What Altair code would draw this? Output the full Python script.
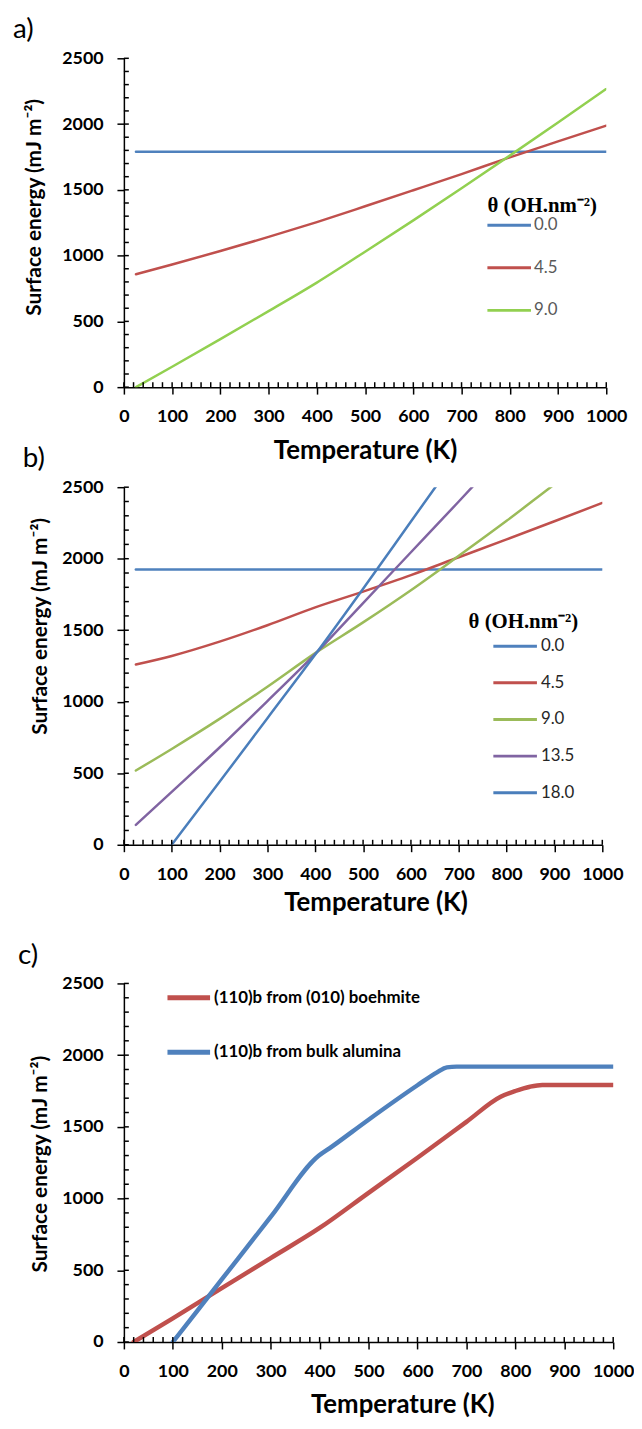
import altair as alt
import pandas as pd

# ---------------- data ----------------
# panel a
T_A = [25, 100, 200, 300, 400, 500, 600, 700, 800, 900, 1000]
A_00 = [1790, 1790, 1790, 1790, 1790, 1790, 1790, 1790, 1790, 1790, 1790]
A_45 = [858, 932, 1035, 1142, 1255, 1375, 1497, 1620, 1747, 1868, 1988]
A_90 = [0, 155, 365, 578, 795, 1030, 1268, 1512, 1760, 2012, 2267]
A_SERIES = ["0.0", "4.5", "9.0"]
A_COLORS = ["#4F81BD", "#C0504D", "#92D050"]

# panel b
T_B = [25, 100, 200, 300, 400, 500, 600, 700, 800, 900, 1000]
B_00 = [1925, 1925, 1925, 1925, 1925, 1925, 1925, 1925, 1925, 1925, 1925]
B_45 = [1260, 1320, 1420, 1535, 1660, 1770, 1885, 2010, 2135, 2262, 2390]
B_90 = [519, 670, 880, 1105, 1340, 1555, 1780, 2020, 2265, 2520, 2770]
T_B135 = [25, 100, 200, 300, 400, 500, 600, 700, 800]
B_135 = [139, 370, 680, 1005, 1335, 1690, 2045, 2400, 2760]
T_B180 = [100, 200, 300, 400, 500, 600, 700]
B_180 = [0, 440, 885, 1330, 1790, 2260, 2730]
B_SERIES = ["0.0", "4.5", "9.0", "13.5", "18.0"]
B_COLORS = ["#4F81BD", "#C0504D", "#9BBB59", "#8064A2", "#4A7EBB"]

# panel c
T_C_RED = [20, 100, 200, 300, 400, 500, 600, 700, 770, 800, 830, 855, 1000]
C_RED = [0, 165, 375, 585, 795, 1040, 1285, 1535, 1710, 1750, 1780, 1792, 1792]
T_C_BLUE = [100, 200, 300, 398, 420, 500, 600, 640, 660, 680, 1000]
C_BLUE = [0, 436, 872, 1298, 1350, 1550, 1790, 1880, 1915, 1920, 1920]
C_SERIES = ["(110)b from (010) boehmite", "(110)b from bulk alumina"]
C_COLORS = ["#C0504D", "#4F81BD"]

X_MAJOR = list(range(0, 1001, 100))
X_MINOR = list(range(0, 1001, 20))
Y_MAJOR = list(range(0, 2501, 500))
Y_MINOR = list(range(0, 2501, 100))

FONT = "Lato"
SERIF = "Liberation Serif"


def rows(T, E, s):
    return [{"T": t, "E": e, "s": s} for t, e in zip(T, E)]


df_a = pd.DataFrame(rows(T_A, A_00, "0.0") + rows(T_A, A_45, "4.5") + rows(T_A, A_90, "9.0"))
df_b = pd.DataFrame(rows(T_B, B_00, "0.0") + rows(T_B, B_45, "4.5") + rows(T_B, B_90, "9.0")
                    + rows(T_B135, B_135, "13.5") + rows(T_B180, B_180, "18.0"))
df_c = pd.DataFrame(rows(T_C_RED, C_RED, C_SERIES[0]) + rows(T_C_BLUE, C_BLUE, C_SERIES[1]))
df_xminor = pd.DataFrame({"v": X_MINOR})
df_yminor = pd.DataFrame({"v": Y_MINOR})

XS = alt.Scale(domain=[0, 1000], nice=False, zero=False)
YS = alt.Scale(domain=[0, 2500], nice=False)


def main_x_axis(title_pad, title_x=None):
    kw = dict(orient="bottom", values=X_MAJOR, format="d", tickSize=7, tickWidth=1.5,
              tickColor="black", domainColor="black", domainWidth=1.5, labelFont=FONT,
              labelFontSize=18, labelFontWeight="bold", labelColor="black", labelPadding=14,
              labelFlush=False, labelOverlap=False, grid=False, titleFont=FONT, titleFontSize=26,
              titleFontWeight="bold", titleColor="black", titlePadding=title_pad)
    if title_x is not None:
        kw["titleX"] = title_x
    return alt.Axis(**kw)


def main_y_axis(title_pad, title_y):
    return alt.Axis(orient="left", values=Y_MAJOR, format="d", tickSize=7, tickWidth=1.5,
                    tickColor="black", domainColor="black", domainWidth=1.5, labelFont=FONT,
                    labelFontSize=18, labelFontWeight="bold", labelColor="black",
                    labelPadding=14, labelOverlap=False, grid=False, titleFont=FONT,
                    titleFontSize=21, titleFontWeight="bold", titleColor="black",
                    titlePadding=title_pad, titleY=title_y)


def label_layer(text, x, y):
    return alt.Chart(pd.DataFrame({"t": [text]})).mark_text(
        align="left", baseline="middle", font=FONT, fontSize=28, color="black"
    ).encode(text="t:N", x=alt.value(x), y=alt.value(y))


def panel(df, series, colors, stroke, legend, width, height,
          xpad, xtitle_x, ypad, ytitle_y, labels):
    lines = alt.Chart(df).mark_line(
        strokeWidth=stroke, clip=True, interpolate="monotone", strokeCap="round", strokeJoin="round"
    ).encode(
        x=alt.X("T:Q", scale=XS, axis=main_x_axis(xpad, xtitle_x), title="Temperature (K)"),
        y=alt.Y("E:Q", scale=YS, axis=main_y_axis(ypad, ytitle_y), title="Surface energy (mJ m⁻²)"),
        color=alt.Color("s:N", scale=alt.Scale(domain=series, range=colors), legend=legend),
    )
    # inner (minor) ticks of both axes: every 20 K and every 100 mJ m-2
    xminor = alt.Chart(df_xminor).mark_rule(color="black", strokeWidth=1.5).encode(
        x=alt.X("v:Q", scale=XS, axis=None),
        y=alt.value(height - 5), y2=alt.value(height),
    )
    yminor = alt.Chart(df_yminor).mark_rule(color="black", strokeWidth=1.5).encode(
        y=alt.Y("v:Q", scale=YS, axis=None),
        x=alt.value(0), x2=alt.value(5),
    )
    texts = [label_layer(t, x, y) for (t, x, y) in labels]
    return alt.layer(lines, xminor, yminor, *texts).resolve_axis(
        x="independent", y="independent"
    ).properties(width=width, height=height)


# legend symbols: a short horizontal stroke (path coordinates are in symbol units)
legend_a = alt.Legend(
    title="θ (OH.nm⁻²)", orient="none", legendX=367, legendY=138, padding=0,
    titleFont=SERIF, titleFontSize=21, titleFontWeight="bold", titleColor="black", titlePadding=1,
    labelFont=FONT, labelFontSize=17, labelColor="#595959", labelOffset=30,
    symbolType="M-8.5,0L35.5,0", symbolSize=4, symbolStrokeWidth=3, rowPadding=25,
)
legend_b = alt.Legend(
    title="θ (OH.nm⁻²)", orient="none", legendX=348, legendY=125, padding=0,
    titleFont=SERIF, titleFontSize=21, titleFontWeight="bold", titleColor="black", titlePadding=6,
    labelFont=FONT, labelFontSize=17, labelColor="#262626", labelOffset=56,
    symbolType="M16.5,0L60.5,0", symbolSize=4, symbolStrokeWidth=3, rowPadding=19,
)
legend_c = alt.Legend(
    title=None, orient="none", legendX=44, legendY=6, padding=0,
    labelFont=FONT, labelFontSize=17, labelFontWeight="bold", labelColor="black", labelOffset=30,
    labelLimit=400, symbolType="M-8.5,0L34.5,0", symbolSize=4, symbolStrokeWidth=5,
    rowPadding=34,
)

pa = panel(df_a, A_SERIES, A_COLORS, 2.5, legend_a, 487, 332, 12, None, 17, 150,
           [("a)", -112, -29), ("b)", -102, 405)])
pb = panel(df_b, B_SERIES, B_COLORS, 2.5, legend_b, 483, 361, 6, 254, 11, 140,
           [("c)", -107, 473)])
pc = panel(df_c, C_SERIES, C_COLORS, 4.5, legend_c, 494, 362, 11, 281, 11, 182, [])

chart = alt.vconcat(pa, pb, pc, spacing=5).resolve_scale(
    color="independent", x="independent", y="independent"
).properties(
    padding={"left": 5, "top": 1, "right": 0, "bottom": 0}
).configure_view(stroke=None)

chart.save("out.html", embed_options={"renderer": "svg", "actions": False})
